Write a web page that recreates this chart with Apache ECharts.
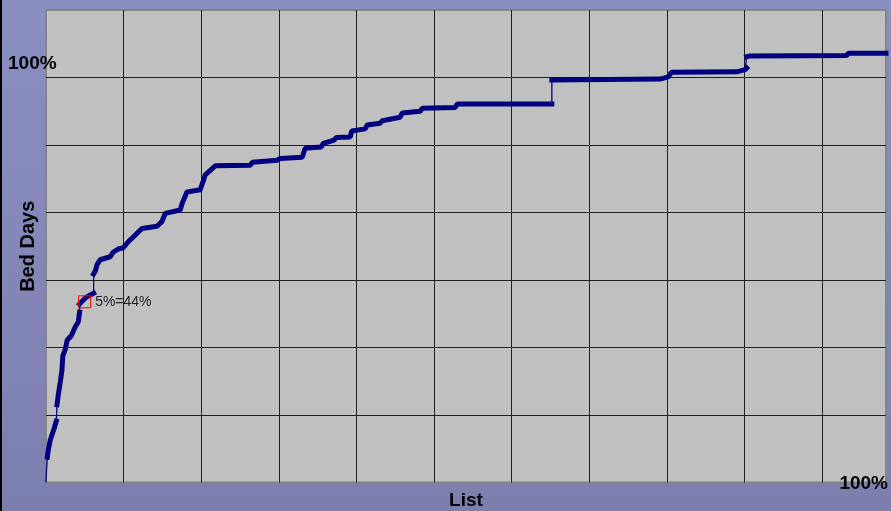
<!DOCTYPE html>
<html>
<head>
<meta charset="utf-8">
<script src="https://cdn.jsdelivr.net/npm/echarts@6/dist/echarts.min.js"></script>
<style>
  html, body { margin: 0; padding: 0; }
</style>
</head>
<body>
<div id="bed_days_con" style="width:891px;height:511px"></div>
<script>
// cumulative share of the list (%) vs cumulative share of bed days (%)
const listPct = [0, 0.06, 0.16, 0.27, 0.51, 0.75, 0.99, 1.11, 1.23, 1.31, 1.46, 1.70, 1.90, 2.00, 2.30, 2.53,
    3.01, 3.49, 3.84, 4.00, 4.00, 4.28, 4.68, 5.27, 5.67, 5.67, 5.87, 6.11, 6.46, 7.65, 8.01, 8.60, 9.20,
    9.79, 10.39, 11.42, 13.21, 13.80, 14.20, 15.98, 16.22, 16.78, 18.36, 18.76, 18.96, 20.15, 24.31, 24.55,
    27.53, 27.88, 30.50, 30.86, 32.76, 33.00, 34.31, 34.55, 36.22, 36.39, 38.00, 38.24, 39.78, 40.02, 42.16,
    42.40, 44.55, 44.78, 48.71, 48.95, 60.22, 60.22, 60.37, 73.10, 74.06, 74.47, 82.23, 83.22, 83.42, 83.42,
    83.81, 95.32, 95.51, 100];
const bedPct = [0, 2.9, 5.9, 7.6, 9.9, 11.3, 12.7, 13.6, 14.3, 18.1, 20.4, 23.4, 26.2, 29.5, 31.1, 33.2,
    34.2, 36.3, 37.4, 39.7, 41.6, 42.2, 43.0, 43.7, 44.1, 48.6, 49.3, 50.9, 51.9, 52.6, 53.7, 54.4, 54.7,
    56.1, 57.2, 59.2, 59.7, 60.8, 62.7, 63.5, 65.1, 67.7, 68.2, 70.5, 71.7, 73.8, 73.9, 74.6,
    75.1, 75.5, 75.8, 77.9, 78.2, 79.0, 79.8, 80.4, 80.5, 81.9, 82.4, 83.3, 83.7, 84.3, 85.1,
    86.1, 86.5, 87.2, 87.4, 88.2, 88.2, 93.8, 93.9, 94.0, 94.5, 95.6, 95.7, 96.2, 96.6, 99.2,
    99.4, 99.5, 100, 100];
const noteX = [4.6];
const noteY = [42.1];
const noteText = ['5%=44%'];
const axisLabels = ['100%', '100%'];
const axisTitles = ['List', 'Bed Days'];

const chart = echarts.init(document.getElementById('bed_days_con'));

let all = [];
let thick = [];
for (let i = 0; i < listPct.length; i++) {
    all.push([listPct[i], bedPct[i]]);
    // vertical jumps are drawn thin, the dense runs thick
    if (i > 0 && listPct[i] - listPct[i - 1] <= 0.1 && bedPct[i] - bedPct[i - 1] > 1.5) {
        thick.push([listPct[i], '-']);
    }
    thick.push([listPct[i], bedPct[i]]);
}

const yMax = 110.1;
const xInterval = 9.24;
const font = 'bold 19px "Liberation Sans", Arial, sans-serif';

const option = {
    animation: false,
    backgroundColor: {
        type: 'linear', x: 0, y: 0, x2: 0, y2: 1,
        colorStops: [{ offset: 0, color: '#8a8fc2' }, { offset: 1, color: '#7c7fae' }]
    },
    grid: {
        left: 46, top: 10, right: 5, bottom: 28.5,
        outerBoundsMode: 'none',
        show: true,
        backgroundColor: '#c0c0c0',
        borderColor: '#858585',
        borderWidth: 2
    },
    xAxis: {
        type: 'value',
        min: 0,
        max: 100,
        interval: xInterval,
        name: axisTitles[0],
        nameLocation: 'middle',
        nameGap: 9,
        nameTextStyle: { fontFamily: 'Liberation Sans', fontWeight: 'bold', fontSize: 19, color: '#000' },
        axisLine: { show: false },
        axisTick: { show: false },
        axisLabel: { show: false },
        splitLine: { show: true, showMinLine: false, showMaxLine: false, lineStyle: { color: '#1e1e1e', width: 1 } }
    },
    yAxis: {
        type: 'value',
        min: 0,
        max: yMax,
        interval: yMax / 7,
        name: axisTitles[1],
        nameLocation: 'middle',
        nameRotate: 90,
        nameGap: 8,
        nameTextStyle: { fontFamily: 'Liberation Sans', fontWeight: 'bold', fontSize: 20, color: '#000' },
        axisLine: { show: false },
        axisTick: { show: false },
        axisLabel: { show: false },
        splitLine: { show: true, showMinLine: false, showMaxLine: false, lineStyle: { color: '#1e1e1e', width: 1 } }
    },
    graphic: [
        { type: 'rect', left: 0, top: 0, shape: { width: 2, height: 511 }, style: { fill: '#000' } },
        { type: 'text', left: 8, top: 54, style: { text: axisLabels[1], font: font, fill: '#000' } },
        { type: 'text', right: 3, top: 474, style: { text: axisLabels[0], font: font, fill: '#000' } }
    ],
    series: [{
        type: 'line',
        data: all,
        symbol: 'none',
        lineStyle: { color: '#000080', width: 1.3 },
        z: 2
    }, {
        type: 'line',
        data: thick,
        symbol: 'none',
        connectNulls: false,
        lineStyle: { color: '#000080', width: 5, cap: 'square' },
        z: 3,
        markPoint: {
            symbol: 'rect',
            symbolSize: 12,
            itemStyle: { color: 'rgba(0,0,0,0)', borderColor: '#ff0000', borderWidth: 1 },
            label: {
                show: true,
                position: 'right',
                distance: 4,
                color: '#222',
                fontSize: 14,
                fontFamily: 'Liberation Sans',
                formatter: function (p) { return p.name; }
            },
            data: noteX.map((x, i) => ({ name: noteText[i], coord: [x, noteY[i]] }))
        }
    }]
};
chart.setOption(option);
window.addEventListener('resize', function () {
    chart.resize();
});
</script>
</body>
</html>
